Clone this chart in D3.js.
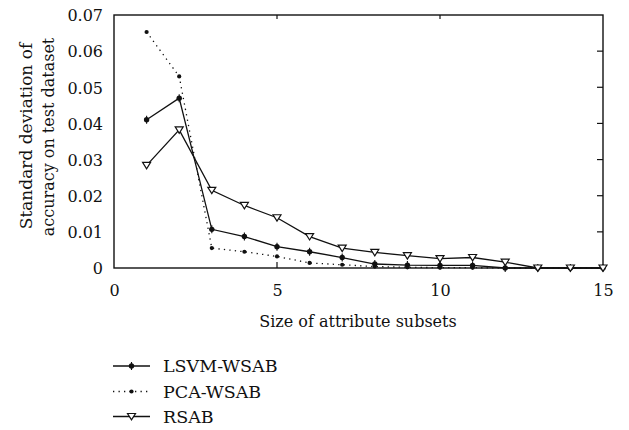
<!DOCTYPE html>
<html><head><meta charset="utf-8">
<script src="https://cdn.jsdelivr.net/npm/d3@7"></script>
<style>
body{margin:0;background:#fff;}
svg{display:block;}
text{font-family:"DejaVu Serif","Liberation Serif",serif;fill:#111;}
</style></head>
<body><svg id="c" width="629" height="430"></svg>
<script>
const xValues = [1,2,3,4,5,6,7,8,9,10,11,12,13,14,15];
const lsvm = [0.041,0.047,0.0107,0.0087,0.0059,0.0045,0.0029,0.0011,0.0008,0.0007,0.0007,0,0,0,0];
const pca  = [0.0653,0.0530,0.0055,0.0045,0.0032,0.0014,0.0009,0.0004,0.0002,0.0001,0.0001,0,0,0,0];
const rsab = [0.0284,0.0382,0.0215,0.0173,0.0139,0.0087,0.0055,0.0043,0.0034,0.0026,0.0029,0.0016,0,0,0];
const xTicks = [0,5,10,15];
const yTicks = [0,0.01,0.02,0.03,0.04,0.05,0.06,0.07];
const seriesNames = ["LSVM-WSAB","PCA-WSAB","RSAB"];
const xTitle = "Size of attribute subsets";
const yTitle = ["Standard deviation of","accuracy on test dataset"];

const FONT = '"DejaVu Serif","Liberation Serif",serif';
const svg = d3.select("#c");
const L=114, R=603, T=15, B=268;
const x = d3.scaleLinear().domain([0,15]).range([L,R]);
const y = d3.scaleLinear().domain([0,0.07]).range([B,T]);
const fs = 16;

// axes labels
const gx = svg.append("g").attr("transform",`translate(0,${B})`)
  .call(d3.axisBottom(x).tickValues(xTicks).tickSize(0).tickPadding(17).tickFormat(d3.format("d")));
gx.attr("font-family",FONT).attr("font-size",fs);
gx.select(".domain").remove();
gx.selectAll("text").attr("font-size",fs).style("font-family",FONT).attr("fill","#111");
const gy = svg.append("g").attr("transform",`translate(${L},0)`)
  .call(d3.axisLeft(y).tickValues(yTicks).tickSize(0).tickPadding(11).tickFormat(d=> d===0?"0":d3.format(".2f")(d)));
gy.attr("font-family",FONT).attr("font-size",fs);
gy.select(".domain").remove();
gy.selectAll("text").attr("font-size",fs).style("font-family",FONT).attr("fill","#111").attr("dy","0.36em");

// inward ticks
const tk = svg.append("g").attr("stroke","#111").attr("stroke-width",1.2);
[5,10].forEach(v=>{
  tk.append("line").attr("x1",x(v)).attr("x2",x(v)).attr("y1",B).attr("y2",B-6);
  tk.append("line").attr("x1",x(v)).attr("x2",x(v)).attr("y1",T).attr("y2",T+4);
});
yTicks.slice(1,-1).forEach(v=>{
  tk.append("line").attr("x1",R).attr("x2",R-6).attr("y1",y(v)).attr("y2",y(v));
});

// frame
svg.append("rect").attr("x",L).attr("y",T).attr("width",R-L).attr("height",B-T)
  .attr("fill","none").attr("stroke","#111").attr("stroke-width",1.4);

const line = d3.line().x((d,i)=>x(xValues[i])).y(d=>y(d));

// series lines
svg.append("path").datum(pca).attr("d",line).attr("fill","none").attr("stroke","#111")
  .attr("stroke-width",1.3).attr("stroke-dasharray","1.3,4.2");
svg.append("path").datum(lsvm).attr("d",line).attr("fill","none").attr("stroke","#111").attr("stroke-width",1.3);
svg.append("path").datum(rsab).attr("d",line).attr("fill","none").attr("stroke","#111").attr("stroke-width",1.3);

function lsvmMarker(g,cx,cy){
  g.append("circle").attr("cx",cx).attr("cy",cy).attr("r",2.7).attr("fill","#111");
  g.append("line").attr("x1",cx).attr("x2",cx).attr("y1",cy-4).attr("y2",cy+4).attr("stroke","#111").attr("stroke-width",1.1);
}
function pcaMarker(g,cx,cy){
  g.append("circle").attr("cx",cx).attr("cy",cy).attr("r",2.1).attr("fill","#111");
}
function rsabMarker(g,cx,cy){
  g.append("path").attr("d",`M${cx-4},${cy-3}L${cx+4},${cy-3}L${cx},${cy+3.4}Z`)
    .attr("fill","#fff").attr("stroke","#111").attr("stroke-width",1.2);
}
const mk = svg.append("g");
pca.forEach((d,i)=>pcaMarker(mk,x(xValues[i]),y(d)));
lsvm.forEach((d,i)=>lsvmMarker(mk,x(xValues[i]),y(d)));
rsab.forEach((d,i)=>rsabMarker(mk,x(xValues[i]),y(d)));

// titles
svg.append("text").attr("x",(258+458)/2).attr("y",327).attr("text-anchor","middle")
  .attr("font-size",fs).text(xTitle);
svg.append("text").attr("transform","translate(32,136) rotate(-90)").attr("text-anchor","middle")
  .attr("font-size",17).text(yTitle[0]);
svg.append("text").attr("transform","translate(53.5,137) rotate(-90)").attr("text-anchor","middle")
  .attr("font-size",16).text(yTitle[1]);

// legend
const legY = [366,391.5,416.5];
const lg = svg.append("g");
const markers=[lsvmMarker,pcaMarker,rsabMarker];
seriesNames.forEach((n,i)=>{
  const ln = lg.append("line").attr("x1",113).attr("x2",150).attr("y1",legY[i]).attr("y2",legY[i])
    .attr("stroke","#111").attr("stroke-width",1.3);
  if(i===1) ln.attr("stroke-dasharray","1.3,4.2");
  markers[i](lg,131.5,legY[i]);
  lg.append("text").attr("x",163).attr("y",legY[i]).attr("dy","0.36em").attr("font-size",17.5).text(n);
});
</script></body></html>
